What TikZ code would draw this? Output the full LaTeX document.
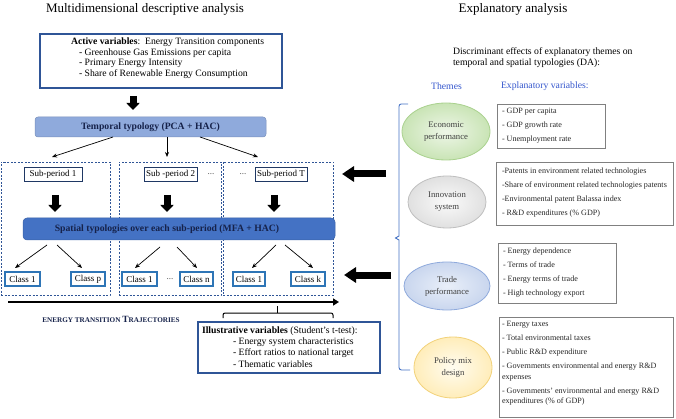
\documentclass[tikz,border=0pt]{standalone}
\usepackage{fontspec}
\setmainfont{Liberation Serif}
\usetikzlibrary{arrows.meta,shapes.geometric,calc}
\definecolor{navy}{HTML}{1F3864}
\definecolor{dblue}{HTML}{2F5597}
\definecolor{tblue}{HTML}{8FAADC}
\definecolor{sblue}{HTML}{4472C4}
\definecolor{cblue}{HTML}{2E75B6}
\definecolor{themeblue}{HTML}{3355CC}
\definecolor{txtnavy}{HTML}{16224A}
\definecolor{gbox}{HTML}{808080}
\definecolor{econB}{HTML}{A9D18E}\definecolor{econI}{HTML}{EEF6E8}\definecolor{econO}{HTML}{C9E4B5}
\definecolor{innoB}{HTML}{BFBFBF}\definecolor{innoI}{HTML}{FAFAFA}\definecolor{innoO}{HTML}{E0E0E0}
\definecolor{tradB}{HTML}{8FAADC}\definecolor{tradI}{HTML}{E9EFF9}\definecolor{tradO}{HTML}{C9D6EE}
\definecolor{poliB}{HTML}{F2D27A}\definecolor{poliI}{HTML}{FFFCF0}\definecolor{poliO}{HTML}{FFEDBA}
\newcommand\fsz[2]{\fontsize{#1}{#2}\selectfont}
\begin{document}
\begin{tikzpicture}[x=1pt,y=-1pt,
  every node/.style={inner sep=0pt, outer sep=0pt},
  dashbox/.style={draw=dblue, dash pattern=on 2pt off 1.5pt, line width=0.8pt},
  subbox/.style={draw=navy, line width=0.9pt, fill=white, font=\fsz{9}{10}, minimum height=14pt},
  classbox/.style={draw=cblue, line width=1.6pt, fill=white, font=\fsz{9}{10}, minimum height=14pt},
  thinarrow/.style={-{Stealth[length=5pt,width=4pt]}, line width=0.7pt},
  bigdown/.style={line width=7pt, -{Triangle[width=13pt,length=7pt]}},
  bigleft/.style={line width=7pt, -{Triangle[width=15pt,length=12pt]}},
  varbox/.style={draw=gbox, line width=0.6pt},
  vartext/.style={font=\fsz{8.1}{14}, align=left, anchor=north west, text=black!85},
  theme/.style={ellipse, line width=0.8pt, font=\fsz{8.7}{12}, align=center, text=black!75},
  dots/.style={font=\fsz{9}{10}, text=black!70}
]
\useasboundingbox (0,0) rectangle (676,419);

% titles
\node[font=\fsz{13}{15}] (title1) at (145,9) {Multidimensional descriptive analysis};
\node[font=\fsz{13}{15}] (title2) at (513,9) {Explanatory analysis};

% active variables
\node[draw=dblue, line width=1.4pt, minimum width=242, minimum height=54] (av) at (161,61) {};
\node[anchor=north west, align=left, font=\fsz{9.7}{10.8}] (avt) at (71,37.6)
  {\textbf{Active variables}:\ \ Energy Transition components\\
   \hspace*{8pt}- Greenhouse Gas Emissions per capita\\
   \hspace*{8pt}- Primary Energy Intensity\\
   \hspace*{8pt}- Share of Renewable Energy Consumption};

% temporal typology
\node[draw=tblue!85!black, line width=0.5pt, fill=tblue, rounded corners=3pt, minimum width=231, minimum height=20,
      font=\bfseries\fsz{9.7}{11}, text=txtnavy] (temp) at (150.5,127) {Temporal typology (PCA + HAC)};
\draw[bigdown, shorten <=8pt, shorten >=7pt] ([xshift=-28pt]av.south) -- ([xshift=-17.5pt]temp.north);

% dashed boxes
\node[dashbox, minimum width=109, minimum height=133] (d1) at (55.5,228.5) {};
\node[dashbox, minimum width=102, minimum height=133] (d2) at (170,228.5) {};
\node[dashbox, minimum width=110, minimum height=133] (d3) at (278,228.5) {};

% sub-periods
\node[subbox, minimum width=58] (sp1) at (53,174) {Sub-period 1};
\node[subbox, minimum width=53] (sp2) at (170.5,174) {Sub -period 2};
\node[subbox, minimum width=52] (spT) at (281,174) {Sub-period T};
\node[dots] (dotsA) at (211,174) {...};
\node[dots] (dotsB) at (243,174) {...};

\draw[thinarrow] ([xshift=-37.5pt]temp.south) -- ([xshift=-1pt,yshift=10pt]sp1.north);
\draw[thinarrow] ([xshift=16.5pt]temp.south) -- ([xshift=-3.5pt,yshift=10pt]sp2.north);
\draw[thinarrow] ([xshift=49.5pt]temp.south) -- ([xshift=-23pt,yshift=10pt]spT.north);

% spatial typologies
\node[fill=sblue, draw=sblue!85!black, line width=0.5pt, rounded corners=4pt, minimum width=312, minimum height=22] (sp) at (179,229) {};
\node[font=\bfseries\fsz{9.7}{11}, text=txtnavy] (spt) at (167,229.5) {Spatial typologies over each sub-period (MFA + HAC)};

\draw[bigdown, shorten <=14pt, shorten >=6pt, transform canvas={xshift=2pt}] (sp1.south) -- (sp1.south |- sp.north);
\draw[bigdown, shorten <=14pt, shorten >=6pt, transform canvas={xshift=-3.5pt}] (sp2.south) -- (sp2.south |- sp.north);
\draw[bigdown, shorten <=14pt, shorten >=6pt, transform canvas={xshift=-7pt}] (spT.south) -- (spT.south |- sp.north);

% classes
\node[classbox, minimum width=35] (c11) at (22.5,279) {Class 1};
\node[classbox, minimum width=34] (c1p) at (88,279) {Class p};
\node[classbox, minimum width=35] (c21) at (139.5,279) {Class 1};
\node[dots] (dotsC) at (170,279) {...};
\node[classbox, minimum width=33] (c2n) at (196.5,279) {Class n};
\node[classbox, minimum width=32] (c31) at (249,279) {Class 1};
\node[classbox, minimum width=34] (c3k) at (308,279) {Class k};

\draw[thinarrow] ([xshift=-132pt,yshift=-5pt]sp.south) -- ([xshift=-7.5pt,yshift=4pt]c11.north);
\draw[thinarrow] ([xshift=-122pt,yshift=-5pt]sp.south) -- ([xshift=-6pt,yshift=4pt]c1p.north);
\draw[thinarrow] ([xshift=-19pt,yshift=-7pt]sp.south) -- ([xshift=-4.5pt,yshift=4pt]c21.north);
\draw[thinarrow] ([xshift=-2pt,yshift=-7pt]sp.south) -- ([xshift=0.5pt,yshift=4pt]c2n.north);
\draw[thinarrow] ([xshift=97pt,yshift=-5pt]sp.south) -- ([xshift=3pt,yshift=4pt]c31.north);
\draw[thinarrow] ([xshift=106pt,yshift=-5pt]sp.south) -- ([xshift=5pt,yshift=4pt]c3k.north);

% trajectories arrow
\coordinate (trs) at (8,302);
\coordinate (tre) at (339,302);
\draw[line width=1.8pt, -{Triangle[width=7pt,length=6pt]}] (trs) -- (tre);
\node[font=\bfseries, text=txtnavy] (traj) at (111,319)
  {\fsz{7.2}{8}ENERGY TRANSITION \fsz{9.5}{10}T\fsz{7.2}{8}RAJECTORIES};

% brace
\draw[line width=1pt, rounded corners=2pt] (223,318) -- (223,313) -- (333,313) -- (333,318);
\draw[line width=1pt] (277,313) -- (277,305.5);

% illustrative variables
\node[draw=dblue, line width=1.4pt, minimum width=182, minimum height=51] (ill) at (289,347.5) {};
\node[anchor=north west, align=left, font=\fsz{9.7}{11.3}] (illt) at (202,326.6)
  {\textbf{Illustrative variables} (Student’s t-test):\\
   \hspace*{31pt}- Energy system characteristics\\
   \hspace*{31pt}- Effort ratios to national target\\
   \hspace*{31pt}- Thematic variables};

% right side header
\node[anchor=north west, align=left, font=\fsz{9.7}{11.5}] (disc) at (453,47.6)
  {Discriminant effects of explanatory themes on\\temporal and spatial typologies (DA):};
\node[font=\fsz{9.7}{11}, text=themeblue] (themes) at (446.5,86) {Themes};
\node[anchor=west, font=\fsz{9.7}{11}, text=themeblue] (expv) at (501,86) {Explanatory variables:};

% blue bracket
\draw[sblue, line width=0.9pt] (408,104) -- (401,104) to[out=180,in=90] (399,106.5) -- (399,236) -- (395.5,238) -- (399,240) -- (399,367.5) to[out=270,in=180] (401.5,370) -- (410,370);

% themes ellipses
\node[theme, draw=econB, inner color=econI, outer color=econO, minimum width=88, minimum height=57] (econ) at (446,131.5) {Economic\\performance};
\node[theme, draw=innoB, inner color=innoI, outer color=innoO, minimum width=78, minimum height=52] (inno) at (447,202) {Innovation\\system};
\node[theme, draw=tradB, inner color=tradI, outer color=tradO, minimum width=86, minimum height=48] (trad) at (447,286) {Trade\\performance};
\node[theme, draw=poliB, inner color=poliI, outer color=poliO, minimum width=78, minimum height=61] (poli) at (453,367.5) {Policy mix\\design};

% variable boxes
\node[varbox, minimum width=108, minimum height=44] (b1) at (551,126) {};
\node[vartext] (b1t) at (502,108.3) {- GDP per capita\\- GDP growth rate\\- Unemployment rate};
\node[varbox, minimum width=177, minimum height=63] (b2) at (584.5,193.5) {};
\node[vartext] (b2t) at (502,168.3) {-Patents in environment related technologies\\-Share of environment related technologies patents\\-Environmental patent Balassa index\\- R\&D expenditures (\% GDP)};
\node[varbox, minimum width=118, minimum height=60] (b3) at (557,273) {};
\node[vartext] (b3t) at (503,248.3) {- Energy dependence\\- Terms of trade\\- Energy terms of trade\\- High technology export};
\node[varbox, minimum width=174, minimum height=100] (b4) at (586,367) {};
\node[vartext, font=\fsz{8.1}{10.5}] (b4t) at (502,321.3) {- Energy taxes\\[3.5pt]- Total environmental taxes\\[3.5pt]- Public R\&D expenditure\\[3.5pt]- Governments environmental and energy R\&D\\expenses\\[3.5pt]- Governments’ environmental and energy R\&D\\expenditures (\% of GDP)};

% big left arrows
\coordinate (a1s) at (386,174);
\coordinate (a1e) at (342,174);
\draw[bigleft] (a1s) -- (a1e);
\coordinate (a2s) at (391,275);
\coordinate (a2e) at (344,275);
\draw[bigleft] (a2s) -- (a2e);
\end{tikzpicture}
\end{document}
